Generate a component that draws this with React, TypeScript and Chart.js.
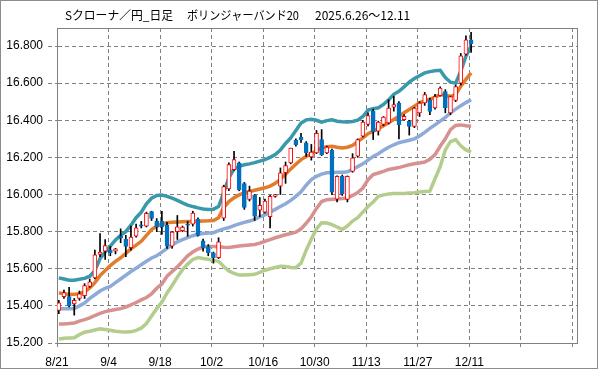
import React, { useEffect, useRef } from 'react';
import { Chart, registerables } from 'chart.js';

Chart.register(...registerables);

const TITLE_PARTS = ['Sクローナ／円_日足', 'ボリンジャーバンド20', '2025.6.26〜12.11'];
const X_TICK_LABELS = ['8/21', '9/4', '9/18', '10/2', '10/16', '10/30', '11/13', '11/27', '12/11', '', ''];
const Y_MIN = 15.2;
const Y_MAX = 16.897;
const Y_STEP = 0.2;
const X_MAX = 100.9;
const DAY_OFFSET = 0.35;

const OPEN = [
  15.376, 15.450, 15.450, 15.410, 15.440, 15.455, 15.505, 15.550, 15.677, 15.695,
  15.700, 15.695, 15.775, 15.760, 15.713, 15.775, 15.837, 15.830, 15.908, 15.857,
  15.855, 15.835, 15.722, 15.800, 15.805, 15.840, 15.840, 15.868, 15.750, 15.719,
  15.686, 15.660, 15.872, 16.030, 16.134, 16.170, 16.059, 15.973, 15.995, 15.916,
  15.905, 15.880, 15.990, 16.045, 16.117, 16.170, 16.292, 16.310, 16.278, 16.203,
  16.224, 16.296, 16.224, 16.238, 15.975, 16.098, 15.973, 16.125, 16.206, 16.314,
  16.377, 16.449, 16.341, 16.377, 16.386, 16.471, 16.493, 16.403, 16.394, 16.367,
  16.439, 16.493, 16.510, 16.466, 16.532, 16.555, 16.440, 16.507, 16.600, 16.756,
  16.833,
];
const HIGH = [
  15.430, 15.485, 15.500, 15.440, 15.480, 15.520, 15.545, 15.700, 15.790, 15.757,
  15.720, 15.710, 15.815, 15.780, 15.830, 15.840, 15.855, 15.905, 15.910, 15.870,
  15.910, 15.850, 15.800, 15.887, 15.830, 15.855, 15.910, 15.875, 15.760, 15.730,
  15.690, 15.767, 16.050, 16.170, 16.233, 16.175, 16.065, 16.045, 16.000, 15.984,
  15.975, 15.995, 16.000, 16.143, 16.175, 16.250, 16.300, 16.330, 16.285, 16.270,
  16.345, 16.350, 16.260, 16.245, 16.100, 16.105, 16.100, 16.220, 16.300, 16.400,
  16.440, 16.460, 16.395, 16.420, 16.510, 16.530, 16.500, 16.430, 16.400, 16.470,
  16.500, 16.550, 16.520, 16.540, 16.580, 16.565, 16.530, 16.590, 16.760, 16.855,
  16.873,
];
const LOW = [
  15.358, 15.440, 15.395, 15.350, 15.430, 15.440, 15.500, 15.545, 15.665, 15.650,
  15.670, 15.680, 15.740, 15.665, 15.700, 15.770, 15.820, 15.825, 15.860, 15.800,
  15.785, 15.710, 15.710, 15.758, 15.800, 15.775, 15.830, 15.775, 15.695, 15.670,
  15.630, 15.655, 15.860, 16.020, 16.130, 16.020, 15.920, 15.965, 15.860, 15.880,
  15.900, 15.820, 15.985, 16.000, 16.060, 16.165, 16.260, 16.280, 16.205, 16.185,
  16.220, 16.210, 16.220, 16.000, 15.960, 15.995, 15.960, 16.120, 16.200, 16.310,
  16.370, 16.296, 16.320, 16.370, 16.380, 16.449, 16.300, 16.400, 16.320, 16.360,
  16.420, 16.480, 16.430, 16.460, 16.530, 16.440, 16.430, 16.500, 16.590, 16.750,
  16.765,
];
const CLOSE = [
  15.416, 15.472, 15.400, 15.430, 15.465, 15.510, 15.530, 15.675, 15.690, 15.725,
  15.687, 15.707, 15.765, 15.720, 15.770, 15.820, 15.830, 15.898, 15.871, 15.826,
  15.826, 15.722, 15.797, 15.826, 15.825, 15.835, 15.900, 15.780, 15.713, 15.686,
  15.660, 15.745, 16.043, 16.161, 16.188, 16.025, 15.930, 16.018, 15.883, 15.941,
  15.964, 15.990, 16.000, 16.117, 16.156, 16.250, 16.269, 16.296, 16.224, 16.228,
  16.330, 16.215, 16.255, 16.012, 16.098, 16.005, 16.098, 16.197, 16.296, 16.390,
  16.425, 16.338, 16.390, 16.417, 16.466, 16.484, 16.376, 16.421, 16.367, 16.466,
  16.493, 16.538, 16.448, 16.528, 16.574, 16.466, 16.528, 16.582, 16.747, 16.833,
  16.812,
];

// +2σ (teal)
const BAND_UP2 = [
  15.551, 15.545, 15.538, 15.538, 15.543, 15.548, 15.560, 15.590, 15.655, 15.690,
  15.722, 15.755, 15.780, 15.800, 15.835, 15.875, 15.905, 15.950, 15.980, 15.995,
  15.997, 15.990, 15.980, 15.968, 15.955, 15.943, 15.935, 15.928, 15.922, 15.919,
  15.921, 15.935, 16.010, 16.090, 16.138, 16.152, 16.160, 16.165, 16.172, 16.180,
  16.188, 16.200, 16.215, 16.240, 16.275, 16.305, 16.345, 16.385, 16.402, 16.405,
  16.400, 16.390, 16.398, 16.402, 16.395, 16.392, 16.390, 16.393, 16.400, 16.420,
  16.455, 16.462, 16.467, 16.485, 16.510, 16.540, 16.556, 16.580, 16.605, 16.625,
  16.640, 16.655, 16.662, 16.667, 16.669, 16.630, 16.605, 16.600, 16.665, 16.745,
  16.800,
];
// +1σ (orange)
const BAND_UP1 = [
  15.470, 15.465, 15.461, 15.462, 15.466, 15.475, 15.497, 15.525, 15.563, 15.590,
  15.617, 15.640, 15.659, 15.683, 15.707, 15.727, 15.748, 15.780, 15.811, 15.830,
  15.840, 15.848, 15.851, 15.852, 15.853, 15.854, 15.855, 15.856, 15.857, 15.858,
  15.860, 15.875, 15.930, 15.962, 15.982, 15.998, 16.008, 16.016, 16.023, 16.030,
  16.036, 16.045, 16.060, 16.082, 16.110, 16.137, 16.163, 16.188, 16.205, 16.220,
  16.237, 16.251, 16.257, 16.260, 16.255, 16.251, 16.255, 16.265, 16.285, 16.305,
  16.328, 16.341, 16.355, 16.370, 16.386, 16.404, 16.422, 16.440, 16.458, 16.476,
  16.494, 16.505, 16.513, 16.525, 16.538, 16.533, 16.529, 16.538, 16.583, 16.620,
  16.655,
];
// 20-day moving average (light blue)
const BAND_MID = [
  15.385, 15.385, 15.385, 15.386, 15.400, 15.415, 15.440, 15.460, 15.480, 15.495,
  15.505, 15.525, 15.545, 15.565, 15.585, 15.603, 15.622, 15.640, 15.658, 15.670,
  15.690, 15.710, 15.730, 15.745, 15.757, 15.768, 15.778, 15.786, 15.790, 15.792,
  15.794, 15.805, 15.815, 15.822, 15.832, 15.842, 15.850, 15.857, 15.866, 15.880,
  15.890, 15.905, 15.920, 15.935, 15.950, 15.968, 15.990, 16.015, 16.050, 16.080,
  16.098, 16.110, 16.117, 16.119, 16.120, 16.120, 16.122, 16.135, 16.150, 16.165,
  16.185, 16.205, 16.220, 16.238, 16.255, 16.268, 16.279, 16.286, 16.292, 16.300,
  16.315, 16.335, 16.356, 16.375, 16.395, 16.415, 16.440, 16.460, 16.478, 16.495,
  16.511,
];
// -1σ (red)
const BAND_LO1 = [
  15.303, 15.303, 15.305, 15.308, 15.318, 15.326, 15.335, 15.348, 15.360, 15.369,
  15.375, 15.380, 15.385, 15.394, 15.405, 15.418, 15.432, 15.445, 15.465, 15.495,
  15.518, 15.560, 15.585, 15.610, 15.640, 15.670, 15.690, 15.706, 15.717, 15.720,
  15.720, 15.719, 15.716, 15.714, 15.718, 15.722, 15.725, 15.728, 15.731, 15.738,
  15.748, 15.757, 15.767, 15.775, 15.783, 15.790, 15.797, 15.815, 15.845, 15.880,
  15.925, 15.962, 15.972, 15.975, 15.976, 15.978, 15.982, 15.995, 16.010, 16.035,
  16.080, 16.108, 16.116, 16.125, 16.135, 16.140, 16.145, 16.153, 16.160, 16.166,
  16.170, 16.175, 16.190, 16.215, 16.260, 16.300, 16.350, 16.372, 16.375, 16.370,
  16.368,
];
// -2σ (green)
const BAND_LO2 = [
  15.222, 15.225, 15.227, 15.228, 15.245, 15.258, 15.263, 15.270, 15.276, 15.273,
  15.269, 15.263, 15.260, 15.259, 15.260, 15.268, 15.280, 15.305, 15.345, 15.385,
  15.420, 15.470, 15.510, 15.555, 15.595, 15.625, 15.650, 15.660, 15.655, 15.651,
  15.645, 15.640, 15.612, 15.588, 15.575, 15.566, 15.566, 15.568, 15.570, 15.580,
  15.592, 15.600, 15.607, 15.613, 15.612, 15.607, 15.606, 15.630, 15.700, 15.760,
  15.815, 15.848, 15.846, 15.838, 15.825, 15.812, 15.830, 15.857, 15.875, 15.905,
  15.935, 15.960, 15.990, 15.998, 16.003, 16.005, 16.005, 16.006, 16.008, 16.010,
  16.013, 16.016, 16.018, 16.085, 16.150, 16.240, 16.285, 16.296, 16.262, 16.240,
  16.228,
];

const COLOR_UP = '#ff0000';
const COLOR_DOWN = '#0070c0';
const GRID = '#808080';
const FONT = '"Liberation Sans", Arial, sans-serif';

function series(vals: number[]) {
  return vals.map((v, i) => ({ x: i + DAY_OFFSET, y: v }));
}

const framePlugin = {
  id: 'frameAndTitle',
  beforeDraw(chart: any) {
    const ctx = chart.ctx;
    ctx.save();
    ctx.fillStyle = '#ffffff';
    ctx.fillRect(0, 0, chart.width, chart.height);
    ctx.restore();
  },
  beforeDatasetsDraw(chart: any) {
    const { ctx, chartArea } = chart;
    ctx.save();
    ctx.strokeStyle = GRID;
    ctx.lineWidth = 1;
    ctx.setLineDash([]);
    const l = Math.round(chartArea.left) + 0.5;
    const t = Math.round(chartArea.top) + 0.5;
    const r = Math.round(chartArea.right) + 0.5;
    const b = Math.round(chartArea.bottom) + 0.5;
    ctx.strokeRect(l, t, r - l, b - t);
    ctx.restore();
  },
  afterDraw(chart: any) {
    const ctx = chart.ctx;
    ctx.save();
    ctx.strokeStyle = '#8c8c8c';
    ctx.lineWidth = 1;
    ctx.setLineDash([]);
    ctx.strokeRect(0.5, 0.5, chart.width - 2, chart.height - 2);
    ctx.fillStyle = '#000';
    ctx.font = '12px "Noto Sans CJK JP", sans-serif';
    ctx.textBaseline = 'middle';
    ctx.fillText(TITLE_PARTS[0], 65, 15, 108);
    ctx.fillText(TITLE_PARTS[1], 187, 15, 112);
    ctx.fillText(TITLE_PARTS[2], 315, 15, 98);
    ctx.restore();
  },
};

export default function App() {
  const ref = useRef<HTMLCanvasElement | null>(null);
  useEffect(() => {
    if (!ref.current) return;
    const up = OPEN.map((o, i) => CLOSE[i] >= o);
    const chart = new Chart(ref.current, {
      type: 'line',
      data: {
        datasets: [
          { type: 'line', label: '+2σ', data: series(BAND_UP2), borderColor: '#3a98ab', borderWidth: 3.5, pointRadius: 0, order: 5 },
          { type: 'line', label: '+1σ', data: series(BAND_UP1), borderColor: '#e07c2c', borderWidth: 3.5, pointRadius: 0, order: 5 },
          { type: 'line', label: 'MA20', data: series(BAND_MID), borderColor: '#8eaad8', borderWidth: 3.5, pointRadius: 0, order: 6 },
          { type: 'line', label: '-1σ', data: series(BAND_LO1), borderColor: '#d69290', borderWidth: 3.5, pointRadius: 0, order: 6 },
          { type: 'line', label: '-2σ', data: series(BAND_LO2), borderColor: '#b4cd8c', borderWidth: 3.5, pointRadius: 0, order: 6 },
          {
            type: 'bar', label: 'wick',
            data: LOW.map((l, i) => ({ x: i + DAY_OFFSET, y: [l, HIGH[i]] })) as any,
            backgroundColor: '#000000', barThickness: 1, grouped: false, order: 3,
          },
          {
            type: 'bar', label: 'body',
            data: OPEN.map((o, i) => ({ x: i + DAY_OFFSET, y: [o, CLOSE[i]] })) as any,
            backgroundColor: up.map((u) => (u ? '#ffffff' : COLOR_DOWN)),
            borderColor: up.map((u) => (u ? COLOR_UP : COLOR_DOWN)),
            borderWidth: 1, borderSkipped: false, barThickness: 4, grouped: false, order: 2,
          },
        ] as any,
      },
      options: {
        responsive: false,
        animation: false,
        devicePixelRatio: 1,
        events: [],
        layout: { padding: { left: 0, top: 28, right: 22, bottom: 0 } },
        plugins: { legend: { display: false }, title: { display: false }, tooltip: { enabled: false } },
        scales: {
          x: {
            type: 'linear', min: 0, max: X_MAX, offset: false,
            afterFit: (s: any) => { s.height = 27; },
            grid: { color: GRID, lineWidth: 1, tickLength: 4, offset: false, tickColor: GRID, tickBorderDash: [4, 3] },
            border: { display: true, color: GRID, dash: [4, 3] },
            ticks: {
              stepSize: 10, includeBounds: false, autoSkip: false, maxRotation: 0, padding: 8,
              color: '#000', font: { family: FONT, size: 12 },
              callback: (v: any) => X_TICK_LABELS[Math.round(Number(v) / 10)] ?? '',
            },
          },
          y: {
            type: 'linear', min: Y_MIN, max: Y_MAX,
            afterFit: (s: any) => { s.width = 57; },
            grid: { color: GRID, lineWidth: 1, tickLength: 9, tickColor: GRID, tickBorderDash: [4, 3] },
            border: { display: true, color: GRID, dash: [4, 3] },
            ticks: {
              stepSize: Y_STEP, includeBounds: false, padding: 5,
              color: '#000', font: { family: FONT, size: 12 },
              callback: (v: any) => Number(v).toFixed(3),
            },
          },
        },
      } as any,
      plugins: [framePlugin],
    });
    return () => chart.destroy();
  }, []);
  return (
    <div style={{ position: 'fixed', left: 0, top: 0, width: 599, height: 370, background: '#fff' }}>
      <canvas ref={ref} width={599} height={370} style={{ display: 'block', width: 599, height: 370 }} />
    </div>
  );
}
